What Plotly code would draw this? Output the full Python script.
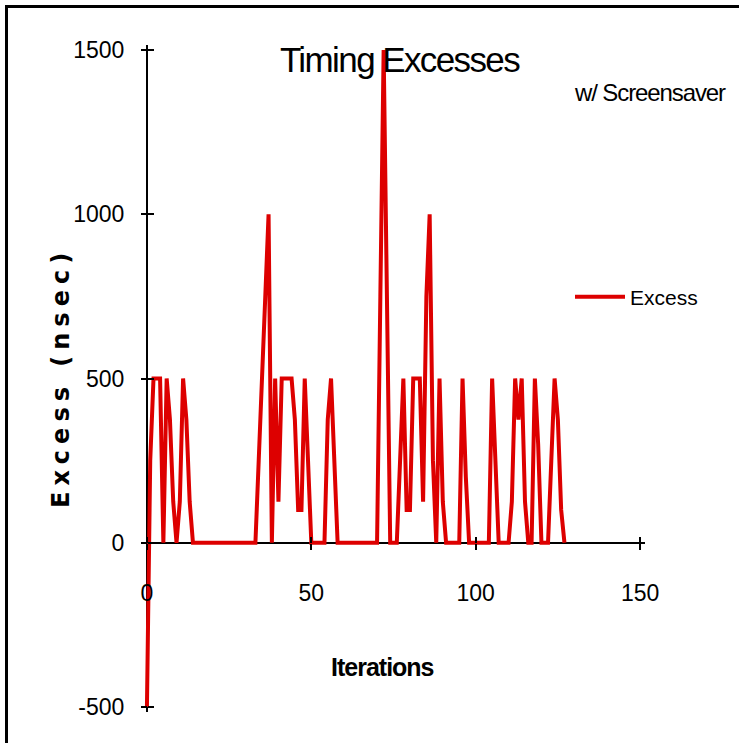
import plotly.graph_objects as go

# ---------------- data ----------------
iterations = list(range(128))
excess_nsec = [
    -500, 250, 500, 500, 500, 0, 500, 375, 125, 0,
    125, 500, 375, 125, 0, 0, 0, 0, 0, 0,
    0, 0, 0, 0, 0, 0, 0, 0, 0, 0,
    0, 0, 0, 0, 250, 500, 750, 1000, 0, 500,
    125, 500, 500, 500, 500, 375, 100, 100, 500, 250,
    0, 0, 0, 0, 0, 375, 500, 250, 0, 0,
    0, 0, 0, 0, 0, 0, 0, 0, 0, 0,
    0, 750, 1500, 750, 0, 0, 0, 250, 500, 100,
    100, 500, 500, 500, 125, 750, 1000, 250, 0, 500,
    125, 0, 0, 0, 0, 0, 500, 200, 0, 0,
    0, 0, 0, 0, 0, 500, 250, 0, 0, 0,
    0, 125, 500, 375, 500, 125, 0, 0, 500, 300,
    0, 0, 0, 250, 500, 375, 100, 0,
]
x_ticks = [0, 50, 100, 150]
x_tick_labels = ["0", "50", "100", "150"]
y_ticks = [-500, 0, 500, 1000, 1500]
y_tick_labels = ["-500", "0", "500", "1000", "1500"]
series_name = "Excess"
title_text = "Timing Excesses"
subtitle_text = "w/ Screensaver"
x_title = "Iterations"
y_title = "Excess (nsec)"

# ---------------- layout constants ----------------
W, H = 739, 743
X_RANGE = [-1.5, 151.5]
Y_RANGE = [-515, 1515]
L, R, T, B = 142, 94, 45, 31
PW, PH = W - L - R, H - T - B


def px_x(p):
    return (p - L) / PW


def px_y(p):
    return (H - B - p) / PH


SANS = "Liberation Sans, Arial, sans-serif"
BOLDWIDE = "DejaVu Sans, Liberation Sans, sans-serif"
RED = "#DD0000"


def styled(text, style):
    return '<span style="' + style + '">' + text + '</span>'


xaxis_pos = (0 - Y_RANGE[0]) / (Y_RANGE[1] - Y_RANGE[0])
yaxis_pos = (0 - X_RANGE[0]) / (X_RANGE[1] - X_RANGE[0])

fig = go.Figure()
fig.add_trace(go.Scatter(
    x=iterations, y=excess_nsec, mode="lines", name=series_name,
    line=dict(color=RED, width=4), showlegend=True, hoverinfo="skip",
))
# helper empty trace so the overlay axes (inner half of the cross ticks) render
fig.add_trace(go.Scatter(x=[], y=[], xaxis="x2", yaxis="y2", showlegend=False,
                         hoverinfo="skip"))

tick_common = dict(showgrid=False, tickcolor="black", tickwidth=2, ticklen=6)

fig.update_layout(
    width=W, height=H, autosize=False,
    margin=dict(l=L, r=R, t=T, b=B, pad=0),
    paper_bgcolor="white", plot_bgcolor="white",
    showlegend=True,
    title=dict(text=styled(title_text, "letter-spacing:-1.6px"),
               x=399.5 / W, xref="container", xanchor="center",
               y=1 - 60 / H, yref="container", yanchor="middle",
               font=dict(family=SANS, size=35, color="black")),
    xaxis=dict(range=X_RANGE, tickvals=x_ticks, ticktext=x_tick_labels,
               ticks="outside", anchor="free",
               position=xaxis_pos, showline=False, zeroline=True,
               zerolinecolor="black", zerolinewidth=2,
               tickfont=dict(family=SANS, size=23, color="black"),
               ticklabelstandoff=24, **tick_common),
    xaxis2=dict(range=X_RANGE, tickvals=x_ticks, ticks="inside", anchor="free",
                position=xaxis_pos, overlaying="x", showline=False, zeroline=False,
                showticklabels=False, **tick_common),
    yaxis=dict(range=Y_RANGE, tickvals=y_ticks, ticktext=y_tick_labels,
               ticks="outside", anchor="free",
               position=yaxis_pos, showline=False, zeroline=True,
               zerolinecolor="black", zerolinewidth=2,
               tickfont=dict(family=SANS, size=23, color="black"),
               ticklabelstandoff=12, **tick_common),
    yaxis2=dict(range=Y_RANGE, tickvals=y_ticks, ticks="inside", anchor="free",
                position=yaxis_pos, overlaying="y", showline=False, zeroline=False,
                showticklabels=False, **tick_common),
    legend=dict(x=px_x(570), y=px_y(297), xanchor="left", yanchor="middle",
                font=dict(family=SANS, size=21, color="black"),
                bgcolor="rgba(0,0,0,0)", borderwidth=0, itemwidth=50),
    annotations=[
        dict(text=styled(subtitle_text, "letter-spacing:-1.1px"),
             x=px_x(650), y=px_y(92), xref="paper", yref="paper",
             showarrow=False, xanchor="center", yanchor="middle",
             font=dict(family=SANS, size=24, color="black")),
        dict(text=styled(x_title, "letter-spacing:-1px"),
             x=px_x(382), y=px_y(667), xref="paper", yref="paper",
             showarrow=False, xanchor="center", yanchor="middle",
             font=dict(family=SANS, size=25, color="black", weight="bold")),
        dict(text=styled(y_title, "letter-spacing:6px"),
             x=px_x(61), y=px_y(378), xref="paper", yref="paper",
             showarrow=False, xanchor="center", yanchor="middle", textangle=-90,
             font=dict(family=BOLDWIDE, size=24, color="black", weight="bold")),
    ],
    shapes=[
        dict(type="line", xref="paper", yref="paper", x0=px_x(5), x1=px_x(739),
             y0=px_y(6.5), y1=px_y(6.5), line=dict(color="black", width=3)),
        dict(type="line", xref="paper", yref="paper", x0=px_x(6.5), x1=px_x(6.5),
             y0=px_y(5), y1=px_y(743), line=dict(color="black", width=3)),
    ],
)

fig.write_html("out.html")
